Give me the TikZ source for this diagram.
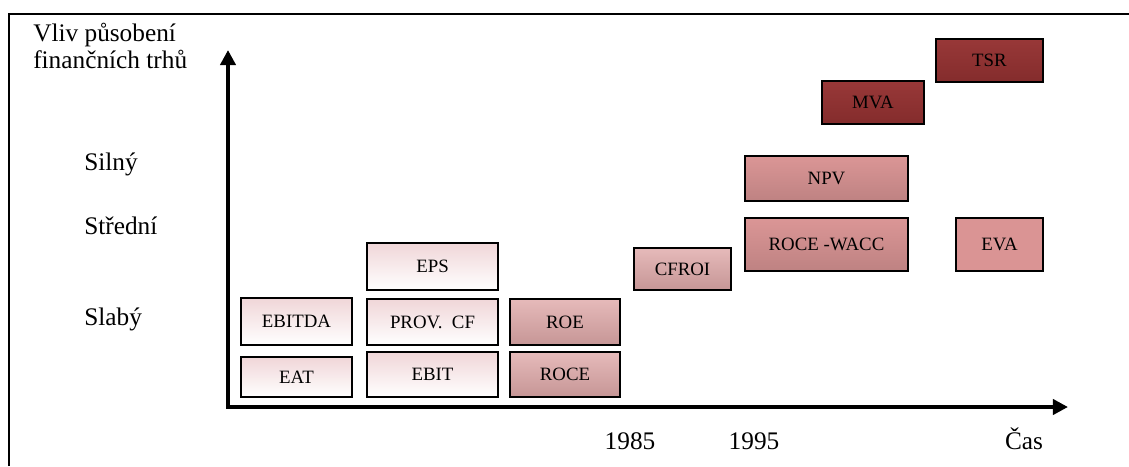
\documentclass[tikz,border=0pt]{standalone}
\usepackage{fontspec}
\setmainfont{Liberation Serif}
\usetikzlibrary{arrows.meta}
\definecolor{lowc}{RGB}{240,214,216}
\definecolor{roetc}{RGB}{230,186,186}
\definecolor{roebc}{RGB}{198,150,150}
\definecolor{midtc}{RGB}{219,150,150}
\definecolor{midbc}{RGB}{190,130,130}
\definecolor{evac}{RGB}{218,148,148}
\definecolor{hightc}{RGB}{152,56,56}
\definecolor{highbc}{RGB}{132,44,44}
\tikzset{
  box/.style={draw=black, line width=1.4pt, align=center, inner sep=0pt, font=\fontsize{13.4}{15}\selectfont},
  low/.style={box, top color=lowc, bottom color=white},
  roe/.style={box, top color=roetc, bottom color=roebc},
  mid/.style={box, top color=midtc, bottom color=midbc},
  eva/.style={box, fill=evac},
  high/.style={box, top color=hightc, bottom color=highbc},
  lbl/.style={inner sep=0pt, font=\fontsize{18}{19.2}\selectfont},
  axis/.style={line width=2.8pt, {Triangle[length=0.38cm,width=0.38cm]}-{Triangle[length=0.38cm,width=0.38cm]}}
}
\begin{document}
\begin{tikzpicture}
  \useasboundingbox (0,0) rectangle (28.225,-11.65);
  % frame
  \draw[line width=1.2pt] (0.225,-11.65) -- (0.225,-0.35) -- (28.225,-0.35);

  % axes
  \coordinate (ytop) at (5.7,-1.25);
  \coordinate (orig) at (5.7,-10.175);
  \coordinate (xend) at (26.7,-10.175);
  \draw[axis] (ytop) -- (orig) -- (xend);

  \node[lbl, anchor=base west, align=left] (vliv) at (0.825,-1.7) {Vliv působení\\finančních trhů};
  \node[lbl, anchor=base west] (silny) at (2.1,-4.25) {Silný};
  \node[lbl, anchor=base west] (stredni) at (2.1,-5.85) {Střední};
  \node[lbl, anchor=base west] (slaby) at (2.1,-8.125) {Slabý};
  \node[lbl, anchor=base] (y85) at (15.75,-11.225) {1985};
  \node[lbl, anchor=base] (y95) at (18.85,-11.225) {1995};
  \node[lbl, anchor=base] (cas) at (25.6,-11.225) {Čas};

  % boxes
  \node[low, minimum width=2.775cm, minimum height=1.175cm] (ebitda) at (7.4125,-8.0375) {EBITDA};
  \node[low, minimum width=2.775cm, minimum height=1.0cm] (eat) at (7.4125,-9.425) {EAT};
  \node[low, minimum width=3.275cm, minimum height=1.175cm] (eps) at (10.8125,-6.6625) {EPS};
  \node[low, minimum width=3.275cm, minimum height=1.15cm] (provcf) at (10.8125,-8.05) {PROV.~ CF};
  \node[low, minimum width=3.275cm, minimum height=1.125cm] (ebit) at (10.8125,-9.3625) {EBIT};
  \node[roe, minimum width=2.75cm, minimum height=1.15cm] (roe) at (14.125,-8.05) {ROE};
  \node[roe, minimum width=2.75cm, minimum height=1.125cm] (roce) at (14.125,-9.3625) {ROCE};
  \node[roe, minimum width=2.425cm, minimum height=1.05cm] (cfroi) at (17.0625,-6.725) {CFROI};
  \node[mid, minimum width=4.075cm, minimum height=1.325cm] (wacc) at (20.6625,-6.1125) {ROCE -WACC};
  \node[mid, minimum width=4.075cm, minimum height=1.125cm] (npv) at (20.6625,-4.4625) {NPV};
  \node[eva, minimum width=2.175cm, minimum height=1.325cm] (evabox) at (24.9875,-6.1125) {EVA};
  \node[high, minimum width=2.55cm, minimum height=1.075cm] (mva) at (21.825,-2.5625) {MVA};
  \node[high, minimum width=2.675cm, minimum height=1.075cm] (tsr) at (24.7375,-1.5125) {TSR};
\end{tikzpicture}
\end{document}
